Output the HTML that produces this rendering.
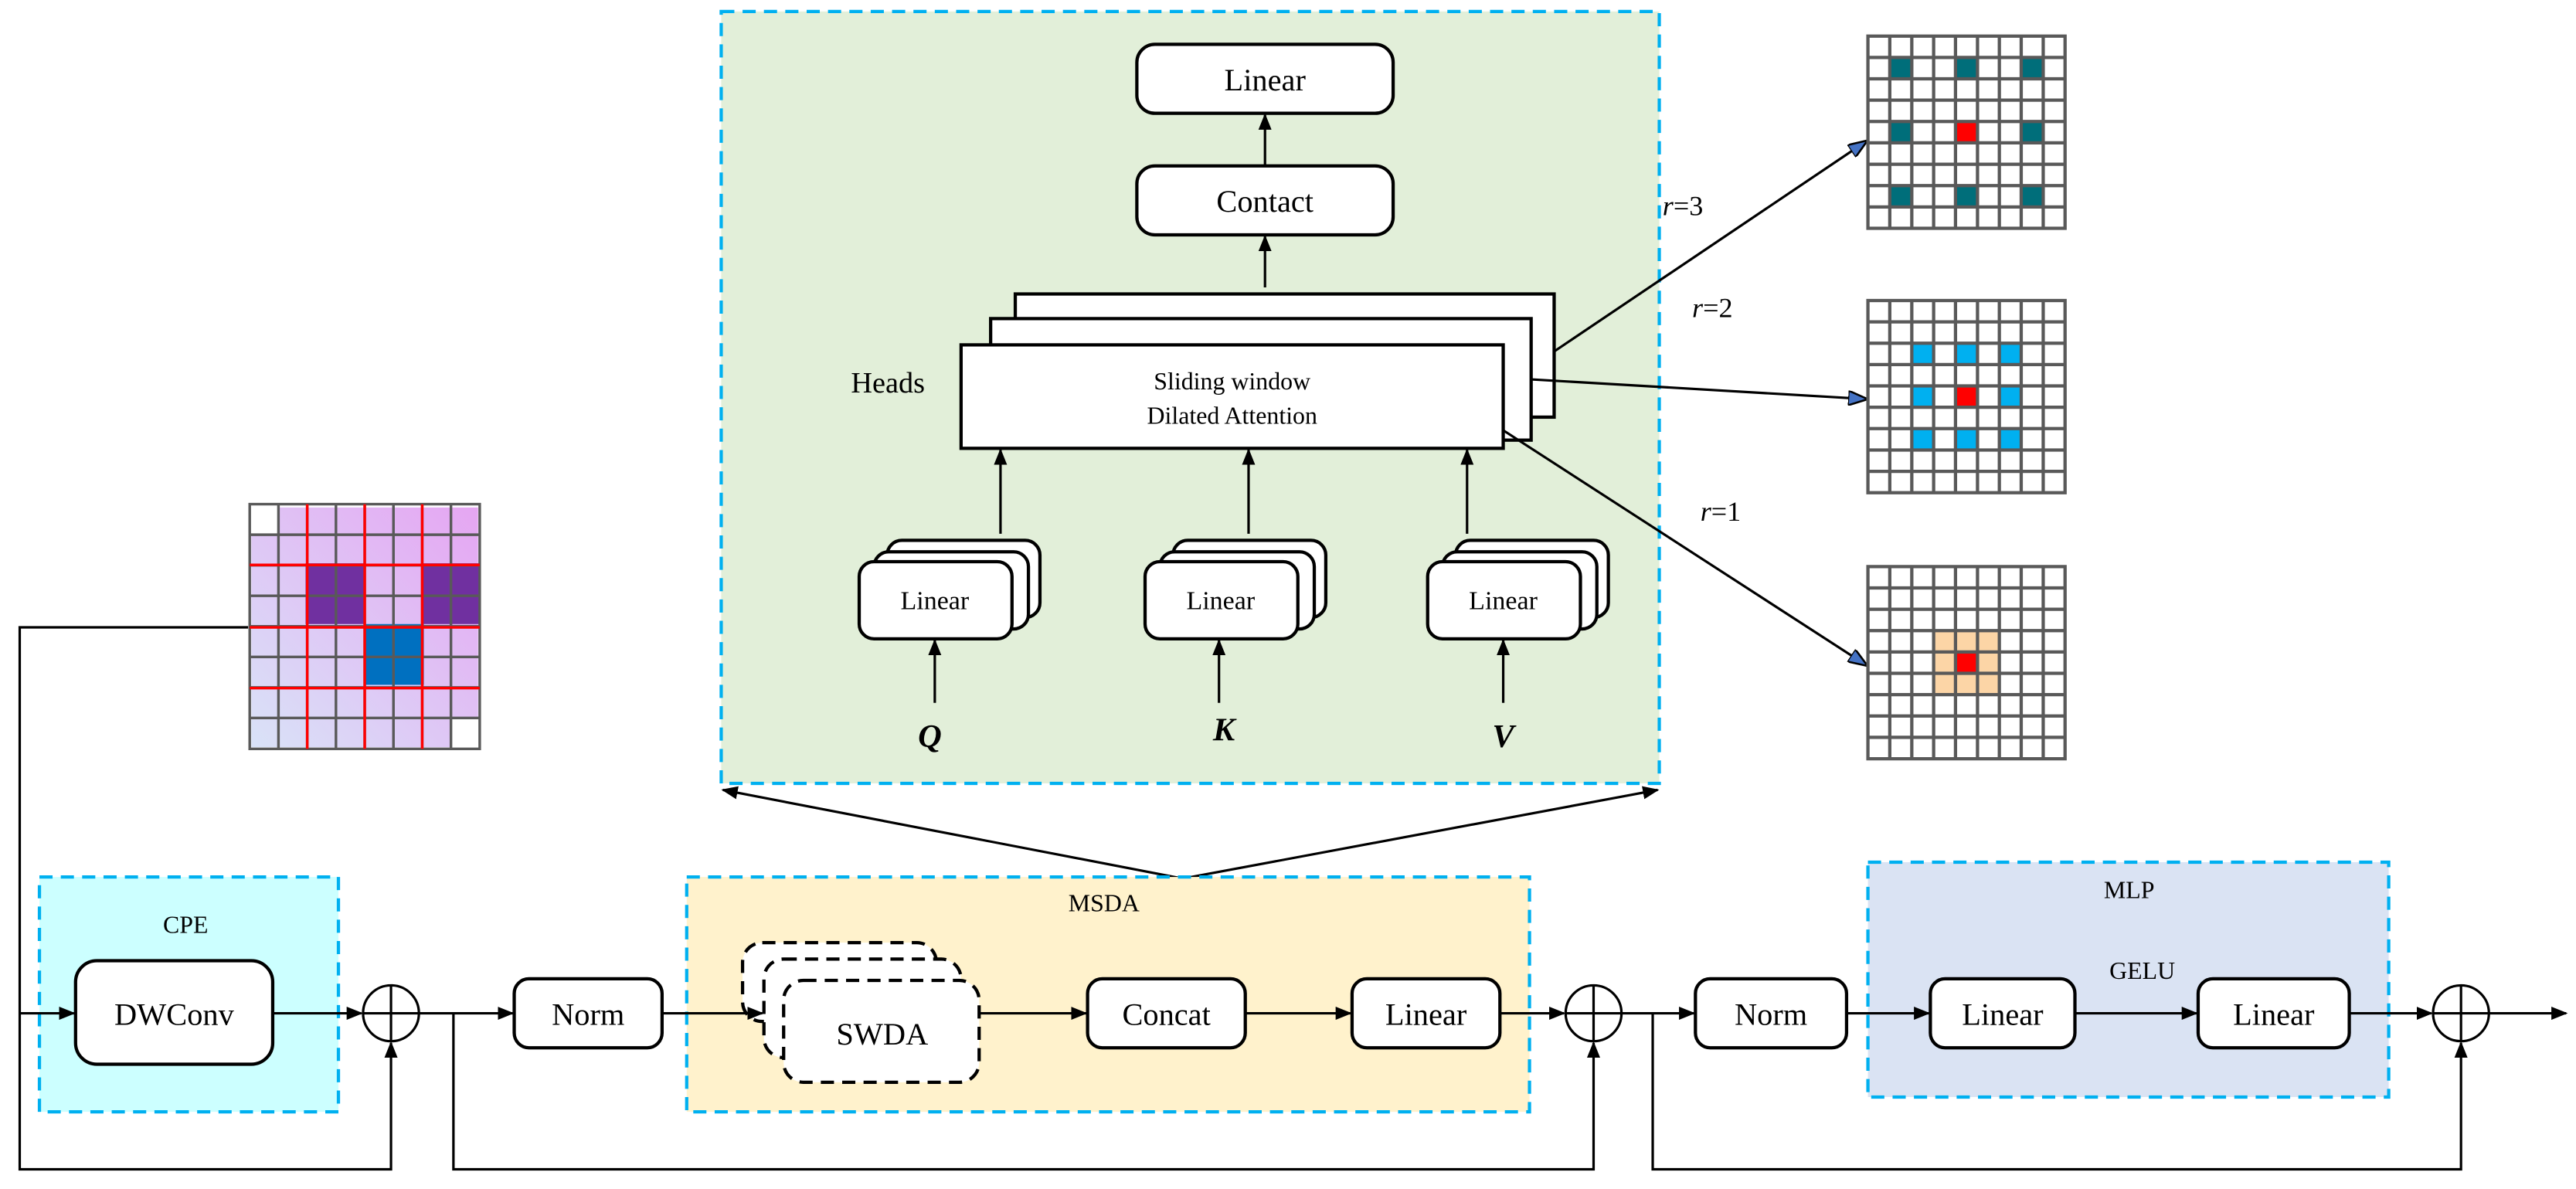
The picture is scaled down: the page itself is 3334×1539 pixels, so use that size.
<!DOCTYPE html>
<html><head><meta charset="utf-8"><style>html,body{margin:0;padding:0;background:#fff}svg{display:block}svg text{font-family:"Liberation Serif","DejaVu Serif",serif}</style></head><body>
<svg width="3334" height="1539" viewBox="0 0 1568 724" preserveAspectRatio="none" xmlns="http://www.w3.org/2000/svg" style="font-family:'Liberation Serif',serif">
<defs>
<marker id="a" markerWidth="10" markerHeight="8" refX="9" refY="4" orient="auto" markerUnits="userSpaceOnUse"><path d="M0,0 L10,4 L0,8 z" fill="#000"/></marker>
<marker id="b" markerWidth="12" markerHeight="9" refX="11" refY="4.5" orient="auto" markerUnits="userSpaceOnUse"><path d="M0,0 L12,4.5 L0,9 z" fill="#4472C4" stroke="#000" stroke-width="1.2"/></marker>
</defs>
<rect x="439" y="7" width="571" height="470" fill="#E2EFD9" stroke="#00B0F0" stroke-width="2" stroke-dasharray="8,5"/>
<g stroke="#000" stroke-width="2" fill="#fff">
<rect x="692" y="27" width="156" height="42" rx="11"/>
<rect x="692" y="101" width="156" height="42" rx="11"/>
<rect x="618" y="179" width="328" height="75"/>
<rect x="603" y="194" width="329" height="74"/>
<rect x="585" y="210" width="330" height="63"/>
</g>
<g font-size="19" text-anchor="middle">
<text x="770" y="55">Linear</text>
<text x="770" y="129">Contact</text>
</g>
<text x="750" y="237" font-size="15" text-anchor="middle">Sliding window</text>
<text x="750" y="258" font-size="15" text-anchor="middle">Dilated Attention</text>
<text x="518" y="239" font-size="18">Heads</text>
<g stroke="#000" stroke-width="1.5" fill="none">
<line x1="770" y1="101" x2="770" y2="70" marker-end="url(#a)"/>
<line x1="770" y1="175" x2="770" y2="144" marker-end="url(#a)"/>
<line x1="609" y1="325" x2="609" y2="274" marker-end="url(#a)"/>
<line x1="760" y1="325" x2="760" y2="274" marker-end="url(#a)"/>
<line x1="893" y1="325" x2="893" y2="274" marker-end="url(#a)"/>
<line x1="569" y1="428" x2="569" y2="390" marker-end="url(#a)"/>
<line x1="742" y1="428" x2="742" y2="390" marker-end="url(#a)"/>
<line x1="915" y1="428" x2="915" y2="390" marker-end="url(#a)"/>
</g>
<g stroke="#000" stroke-width="2" fill="#fff">
<g><rect x="540" y="329" width="93" height="47" rx="9"/><rect x="532" y="336" width="94" height="47" rx="9"/><rect x="523" y="342" width="93" height="47" rx="9"/></g>
<g><rect x="714" y="329" width="93" height="47" rx="9"/><rect x="706" y="336" width="94" height="47" rx="9"/><rect x="697" y="342" width="93" height="47" rx="9"/></g>
<g><rect x="886" y="329" width="93" height="47" rx="9"/><rect x="878" y="336" width="94" height="47" rx="9"/><rect x="869" y="342" width="93" height="47" rx="9"/></g>
</g>
<g font-size="16" text-anchor="middle">
<text x="569" y="371">Linear</text><text x="743" y="371">Linear</text><text x="915" y="371">Linear</text>
</g>
<g font-size="20" font-weight="bold" font-style="italic" text-anchor="middle">
<text x="566" y="455">Q</text><text x="745" y="451">K</text><text x="915" y="455">V</text>
</g>
<g stroke="#000" stroke-width="1.5">
<line x1="946" y1="214" x2="1136" y2="86" marker-end="url(#b)"/>
<line x1="932" y1="231" x2="1136" y2="243" marker-end="url(#b)"/>
<line x1="915" y1="262" x2="1136" y2="405" marker-end="url(#b)"/>
</g>
<g font-size="17">
<text x="1012" y="131"><tspan font-style="italic">r</tspan>=3</text>
<text x="1030" y="193"><tspan font-style="italic">r</tspan>=2</text>
<text x="1035" y="317"><tspan font-style="italic">r</tspan>=1</text>
</g>
<g>
<rect x="1137" y="22" width="120" height="117" fill="#fff"/>
<g fill="#006E7A">
<rect x="1150.3" y="35" width="13.3" height="13"/><rect x="1190.3" y="35" width="13.3" height="13"/><rect x="1230.3" y="35" width="13.3" height="13"/>
<rect x="1150.3" y="74" width="13.3" height="13"/><rect x="1230.3" y="74" width="13.3" height="13"/>
<rect x="1150.3" y="113" width="13.3" height="13"/><rect x="1190.3" y="113" width="13.3" height="13"/><rect x="1230.3" y="113" width="13.3" height="13"/>
</g>
<rect x="1190.3" y="74" width="13.3" height="13" fill="#FF0000"/>
</g>
<g>
<rect x="1137" y="183" width="120" height="117" fill="#fff"/>
<g fill="#00B0F0">
<rect x="1163.7" y="209" width="13.3" height="13"/><rect x="1190.3" y="209" width="13.3" height="13"/><rect x="1217" y="209" width="13.3" height="13"/>
<rect x="1163.7" y="235" width="13.3" height="13"/><rect x="1217" y="235" width="13.3" height="13"/>
<rect x="1163.7" y="261" width="13.3" height="13"/><rect x="1190.3" y="261" width="13.3" height="13"/><rect x="1217" y="261" width="13.3" height="13"/>
</g>
<rect x="1190.3" y="235" width="13.3" height="13" fill="#FF0000"/>
</g>
<g>
<rect x="1137" y="345" width="120" height="117" fill="#fff"/>
<rect x="1177" y="384" width="40" height="39" fill="#F8CBAD" opacity="0.8"/>
<rect x="1177" y="384" width="40" height="39" fill="#FFD58F" opacity="0.5"/>
<rect x="1190.3" y="397" width="13.3" height="13" fill="#FF0000"/>
</g>
<g stroke="#595959" stroke-width="2" fill="none">
<path d="M1137,22h120v117h-120z M1150.3,22v117 M1163.7,22v117 M1177,22v117 M1190.3,22v117 M1203.7,22v117 M1217,22v117 M1230.3,22v117 M1243.7,22v117 M1137,35h120 M1137,48h120 M1137,61h120 M1137,74h120 M1137,87h120 M1137,100h120 M1137,113h120 M1137,126h120"/>
<path d="M1137,183h120v117h-120z M1150.3,183v117 M1163.7,183v117 M1177,183v117 M1190.3,183v117 M1203.7,183v117 M1217,183v117 M1230.3,183v117 M1243.7,183v117 M1137,196h120 M1137,209h120 M1137,222h120 M1137,235h120 M1137,248h120 M1137,261h120 M1137,274h120 M1137,287h120"/>
<path d="M1137,345h120v117h-120z M1150.3,345v117 M1163.7,345v117 M1177,345v117 M1190.3,345v117 M1203.7,345v117 M1217,345v117 M1230.3,345v117 M1243.7,345v117 M1137,358h120 M1137,371h120 M1137,384h120 M1137,397h120 M1137,410h120 M1137,423h120 M1137,436h120 M1137,449h120"/>
</g>
<defs><linearGradient id="p" x1="0" y1="1" x2="1" y2="0"><stop offset="0" stop-color="#CCD9F5"/><stop offset="1" stop-color="#DD88EE"/></linearGradient></defs>
<rect x="153" y="309" width="138" height="146" fill="url(#p)" opacity="0.75"/>
<rect x="151" y="307" width="18" height="18" fill="#fff"/>
<rect x="274" y="437" width="18" height="19" fill="#fff"/>
<g fill="#7030A0"><rect x="186" y="343" width="36" height="37"/><rect x="257" y="343" width="35" height="37"/></g>
<rect x="222" y="380" width="36" height="37" fill="#0070C0"/>
<g stroke="#595959" stroke-width="1.6" fill="none">
<path d="M152,307h140v149h-140z M169.5,307v149 M187,307v149 M204.5,307v149 M222,307v149 M239.5,307v149 M257,307v149 M274.5,307v149 M152,325.6h140 M152,344.2h140 M152,362.8h140 M152,381.4h140 M152,400h140 M152,418.6h140 M152,437.2h140"/>
</g>
<g stroke="#FF0000" stroke-width="1.6">
<path d="M187,307v149 M222,307v149 M257,307v149 M152,344h140 M152,382h140 M152,419h140"/>
</g>
<g stroke="#000" stroke-width="1.5">
<line x1="720" y1="535" x2="440" y2="481" marker-end="url(#a)"/>
<line x1="720" y1="535" x2="1009" y2="481" marker-end="url(#a)"/>
</g>
<rect x="24" y="534" width="182" height="143" fill="#CCFFFF" stroke="#00B0F0" stroke-width="2" stroke-dasharray="8,5"/>
<rect x="418" y="534" width="513" height="143" fill="#FFF2CC" stroke="#00B0F0" stroke-width="2" stroke-dasharray="8,5"/>
<rect x="1137" y="525" width="317" height="143" fill="#DAE3F3" stroke="#00B0F0" stroke-width="2" stroke-dasharray="8,5"/>
<g font-size="15" text-anchor="middle">
<text x="113" y="568">CPE</text><text x="672" y="555">MSDA</text><text x="1296" y="547">MLP</text><text x="1304" y="596">GELU</text>
</g>
<g stroke="#000" stroke-width="2" fill="#fff">
<rect x="46" y="585" width="120" height="63" rx="13"/>
<rect x="313" y="596" width="90" height="42" rx="9"/>
<rect x="662" y="596" width="96" height="42" rx="9"/>
<rect x="823" y="596" width="90" height="42" rx="9"/>
<rect x="1032" y="596" width="92" height="42" rx="9"/>
<rect x="1175" y="596" width="88" height="42" rx="9"/>
<rect x="1338" y="596" width="92" height="42" rx="9"/>
</g>
<g stroke="#000" stroke-width="2" fill="#fff" stroke-dasharray="8,5">
<rect x="452" y="574" width="118" height="48" rx="12"/>
<rect x="465" y="584" width="120" height="60" rx="12"/>
<rect x="477" y="597" width="119" height="62" rx="12"/>
</g>
<g font-size="19" text-anchor="middle">
<text x="106" y="624">DWConv</text><text x="358" y="624">Norm</text><text x="537" y="636">SWDA</text>
<text x="710" y="624">Concat</text><text x="868" y="624">Linear</text><text x="1078" y="624">Norm</text>
<text x="1219" y="624">Linear</text><text x="1384" y="624">Linear</text>
</g>
<g stroke="#000" stroke-width="1.5" fill="none">
<circle cx="238" cy="617" r="17"/><path d="M221,617h34M238,600v34"/>
<circle cx="970" cy="617" r="17"/><path d="M953,617h34M970,600v34"/>
<circle cx="1498" cy="617" r="17"/><path d="M1481,617h34M1498,600v34"/>
</g>
<g stroke="#000" stroke-width="1.5" fill="none">
<line x1="12" y1="617" x2="45" y2="617" marker-end="url(#a)"/>
<polyline points="151,382 12,382 12,712 238,712 238,635" marker-end="url(#a)"/>
<line x1="166" y1="617" x2="220" y2="617" marker-end="url(#a)"/>
<line x1="255" y1="617" x2="312" y2="617" marker-end="url(#a)"/>
<line x1="403" y1="617" x2="464" y2="617" marker-end="url(#a)"/>
<line x1="596" y1="617" x2="661" y2="617" marker-end="url(#a)"/>
<line x1="758" y1="617" x2="822" y2="617" marker-end="url(#a)"/>
<line x1="913" y1="617" x2="952" y2="617" marker-end="url(#a)"/>
<polyline points="276,617 276,712 970,712 970,635" marker-end="url(#a)"/>
<line x1="987" y1="617" x2="1031" y2="617" marker-end="url(#a)"/>
<polyline points="1006,617 1006,712 1498,712 1498,635" marker-end="url(#a)"/>
<line x1="1124" y1="617" x2="1174" y2="617" marker-end="url(#a)"/>
<line x1="1263" y1="617" x2="1337" y2="617" marker-end="url(#a)"/>
<line x1="1430" y1="617" x2="1480" y2="617" marker-end="url(#a)"/>
<line x1="1515" y1="617" x2="1562" y2="617" marker-end="url(#a)"/>
</g>
</svg>
</body></html>
